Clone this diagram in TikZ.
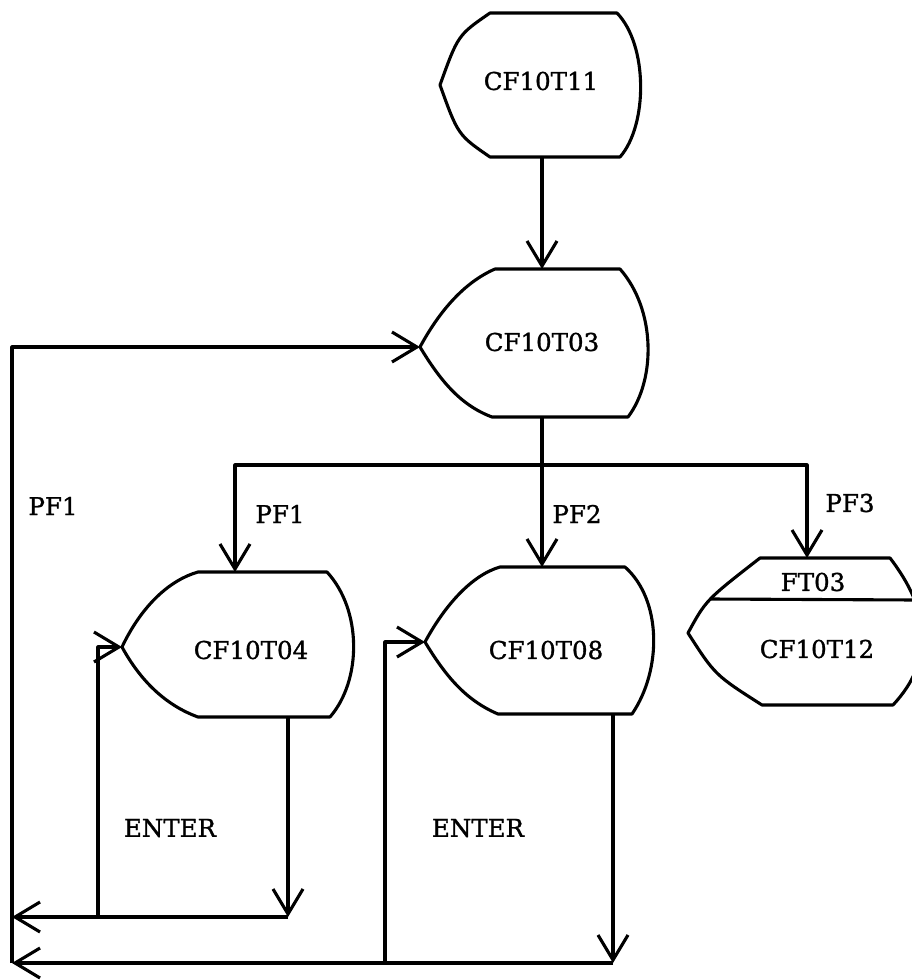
\documentclass[tikz,border=0pt]{standalone}
\usepackage{fontspec}
\newfontfamily\twfont{DejaVu Serif}[FakeBold=1.2]
\usetikzlibrary{arrows.meta}
\begin{document}
\begin{tikzpicture}[x=1pt,y=-1pt,
  line width=3.1pt, line join=round,
  shapeline/.style={draw=black, line width=3.1pt},
  arr/.style={-{Straight Barb[length=25pt,width=30pt]}},
  lbl/.style={font=\twfont\fontsize{24.5}{29}\selectfont, inner sep=0pt, anchor=center}]
\useasboundingbox (0,0) rectangle (912,980);

% ---------- shapes ----------
% CF10T11
\draw[shapeline] (490,13) -- (617,13) .. controls (648,45) and (648,125) .. (620,157)
  -- (490,157) .. controls (458,135) .. (440,85) .. controls (458,35) .. cycle;
\node[lbl] (t11) at (541,81) {CF10T11};
\coordinate (t11s) at (542,157);

% CF10T03
\draw[shapeline] (495,269) -- (620,269) .. controls (656,310) and (656,380) .. (628,417)
  -- (492,417) .. controls (460,405) and (440,380) .. (420,347)
  .. controls (440,310) and (465,282) .. cycle;
\node[lbl] (t03) at (542,342) {CF10T03};
\coordinate (t03n) at (542,269);
\coordinate (t03s) at (542,417);
\coordinate (t03w) at (420,347);

% CF10T04
\draw[shapeline] (198,572) -- (327,572) .. controls (362,610) and (362,680) .. (330,717)
  -- (198,717) .. controls (165,705) and (140,680) .. (122,647)
  .. controls (142,605) and (170,580) .. cycle;
\node[lbl] (t04) at (251,650) {CF10T04};
\coordinate (t04n) at (235,572);
\coordinate (t04s) at (288,717);
\coordinate (t04w) at (122,647);

% CF10T08
\draw[shapeline] (500,567) -- (625,567) .. controls (662,600) and (662,670) .. (632,714)
  -- (498,714) .. controls (465,700) and (445,675) .. (425,642)
  .. controls (445,605) and (472,575) .. cycle;
\node[lbl] (t08) at (546,650) {CF10T08};
\coordinate (t08n) at (542,567);
\coordinate (t08s) at (613,714);
\coordinate (t08w) at (425,642);

% CF10T12 with FT03
\draw[shapeline] (760,558) -- (890,558) .. controls (930,610) and (935,660) .. (893,705)
  -- (762,705) .. controls (715,675) .. (688,633) .. controls (706,600) .. cycle;
\draw[shapeline] (711,599) -- (916,600);
\node[lbl] (ft03) at (813,582) {FT03};
\node[lbl] (t12) at (817,649) {CF10T12};
\coordinate (t12n) at (807,558);

% ---------- junction points ----------
\coordinate (br) at (542,465);
\coordinate (j4) at (288,917);
\coordinate (e4) at (98,917);
\coordinate (l4) at (12,917);
\coordinate (j8) at (613,963);
\coordinate (e8) at (385,963);
\coordinate (l8) at (12,963);

% ---------- connectors ----------
\draw[arr] (t11s) -- (t03n);
\draw[arr] (t03s) -- (t08n);
\draw[arr] (br) -| (t04n);
\draw[arr] (br) -| (t12n);
\draw[arr] (l8) |- (t03w);
\draw[arr] (t04s) -- (j4);
\draw[arr] (j4) -- (l4);
\draw[arr] (e4) |- (t04w);
\draw[arr] (t08s) -- (j8);
\draw[arr] (j8) -- (l8);
\draw[arr] (e8) |- (t08w);

% ---------- labels ----------
\node[lbl] (pf1a) at (53,506) {PF1};
\node[lbl] (pf1b) at (280,514) {PF1};
\node[lbl] (pf2) at (577,514) {PF2};
\node[lbl] (pf3) at (850,503) {PF3};
\node[lbl] (ent1) at (170,828) {ENTER};
\node[lbl] (ent2) at (478,828) {ENTER};
\end{tikzpicture}
\end{document}
